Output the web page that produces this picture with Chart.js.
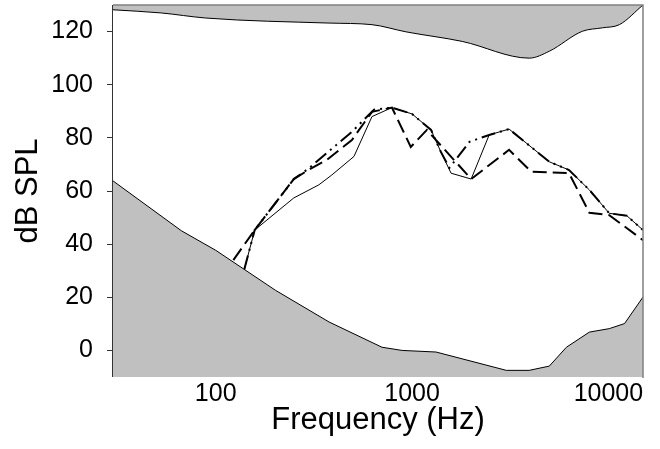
<!DOCTYPE html>
<html>
<head>
<meta charset="utf-8">
<script src="https://cdn.jsdelivr.net/npm/chart.js@4/dist/chart.umd.min.js"></script>
<style>
  body { margin: 0; background: #fff; }
  #grafico { display: block; }
</style>
</head>
<body>
<canvas id="grafico" width="660" height="449"></canvas>
<script>
// umbral de dolor (zona gris superior)
const dolorHz = [30, 53, 89, 378, 625, 931, 1800, 3950, 5000, 7360, 9300, 11370, 15000];
const dolorDb = [128.2, 127, 125.1, 123.2, 122.6, 119.9, 116.3, 110, 112.6, 120.1, 121.4, 122.6, 130];

// umbral de audicion (zona gris inferior)
const audicionHz = [30, 67, 100, 202, 378, 703, 890, 1325, 3020, 3950, 5000, 6110, 8000, 10100, 12080, 15000];
const audicionDb = [63.8, 45, 37.7, 22.6, 10.7, 1.2, 0, -0.6, -7.5, -7.5, -5.9, 1.2, 6.9, 8.2, 10.1, 20.1];

// linea continua
const continuaHz = [140, 158, 250, 335, 390, 506, 625, 790, 1000, 1250, 1400, 1580, 2000, 2470, 3120, 5000, 6300, 8000, 10100, 12400, 15000];
const continuaDb = [30.6, 45.3, 57.4, 62.3, 66, 73, 88, 91.4, 89, 83, 74.8, 66.7, 64.5, 81.1, 83.3, 71, 67.9, 60.4, 51.6, 50.7, 45.3];

// linea de trazos
const trazosHz = [123, 158, 210, 250, 298, 368, 494, 625, 790, 985, 1190, 2000, 3120, 4040, 6300, 8000, 10100, 15000];
const trazosDb = [34, 45.3, 57.2, 64.5, 68, 71.7, 79.2, 89.8, 91.4, 76.6, 83, 64.5, 75.5, 67.3, 66.7, 51.8, 50.9, 41.5];

// linea de trazo-punto-punto
const puntosHz = [140, 158, 250, 298, 368, 494, 640, 790, 1000, 1250, 1400, 1550, 1960, 2470, 3120, 5000, 6300, 8000, 10100, 12400, 15000];
const puntosDb = [30.6, 45.3, 64.5, 68.5, 74.3, 82.3, 90.6, 91.4, 89, 83, 74.8, 68.7, 78.5, 81.1, 83.3, 71, 67.9, 60.4, 51.6, 50.7, 45.3];

const ticksX = [100, 1000, 10000];
const ticksY = [0, 20, 40, 60, 80, 100, 120];

const puntos = (xs, ys) => xs.map((x, i) => ({ x: x, y: ys[i] }));

const fuente = "'Liberation Sans', Arial, sans-serif";

const marco = {
    id: "marco",
    afterDatasetsDraw(chart) {
        const { ctx, chartArea: a } = chart;
        ctx.save();
        ctx.lineWidth = 1.5;
        ctx.strokeStyle = "#808080";
        ctx.beginPath();
        ctx.moveTo(a.left, a.top);
        ctx.lineTo(a.right, a.top);
        ctx.lineTo(a.right, a.bottom + 1);
        ctx.stroke();
        ctx.strokeStyle = "#333";
        ctx.lineWidth = 1;
        ctx.beginPath();
        ctx.moveTo(a.left - 0.5, a.top);
        ctx.lineTo(a.left - 0.5, a.bottom);
        ctx.stroke();
        ctx.restore();
    }
};

new Chart(document.getElementById("grafico"), {
    type: "line",
    data: {
        datasets: [
            {
                data: puntos(dolorHz, dolorDb),
                fill: "end",
                backgroundColor: "#c0c0c0",
                borderColor: "#000",
                borderWidth: 1,
                pointRadius: 0,
                cubicInterpolationMode: "monotone"
            },
            {
                data: puntos(audicionHz, audicionDb),
                fill: "start",
                backgroundColor: "#c0c0c0",
                borderColor: "#000",
                borderWidth: 1,
                pointRadius: 0,
                tension: 0
            },
            {
                data: puntos(continuaHz, continuaDb),
                fill: false,
                borderColor: "#000",
                borderWidth: 1,
                pointRadius: 0,
                tension: 0
            },
            {
                data: puntos(trazosHz, trazosDb),
                fill: false,
                borderColor: "#000",
                borderWidth: 2,
                borderDash: [14, 6],
                pointRadius: 0,
                tension: 0
            },
            {
                data: puntos(puntosHz, puntosDb),
                fill: false,
                borderColor: "#000",
                borderWidth: 2,
                borderDash: [14, 5, 2, 5, 2, 5],
                pointRadius: 0,
                tension: 0
            }
        ]
    },
    options: {
        responsive: false,
        animation: false,
        devicePixelRatio: 1,
        layout: { padding: { top: 5, right: 17, left: 0, bottom: 0 } },
        plugins: { legend: { display: false }, tooltip: { enabled: false } },
        scales: {
            x: {
                type: "logarithmic",
                min: 30,
                max: 15000,
                afterBuildTicks: (s) => { s.ticks = ticksX.map(v => ({ value: v })); },
                afterFit: (s) => { s.height = 72; s.paddingLeft = 0; s.paddingRight = 0; },
                grid: { display: false, drawTicks: false },
                border: { display: false },
                ticks: {
                    autoSkip: false,
                    maxRotation: 0,
                    padding: 2,
                    color: "#000",
                    font: { family: fuente, size: 25 },
                    callback: (v) => String(v)
                },
                title: {
                    display: true,
                    text: "Frequency (Hz)",
                    color: "#000",
                    font: { family: fuente, size: 31 },
                    padding: { top: 0, bottom: 10 }
                }
            },
            y: {
                min: -10,
                max: 130,
                afterBuildTicks: (s) => { s.ticks = ticksY.map(v => ({ value: v })); },
                afterFit: (s) => { s.width = 113; s.paddingTop = 0; s.paddingBottom = 0; },
                grid: { drawOnChartArea: false, drawTicks: true, tickLength: 6, color: "#333" },
                border: { display: false },
                ticks: {
                    padding: 14,
                    color: "#000",
                    font: { family: fuente, size: 25 }
                },
                title: {
                    display: true,
                    text: "dB SPL",
                    color: "#000",
                    font: { family: fuente, size: 31 },
                    padding: { top: 10, bottom: 0 }
                }
            }
        }
    },
    plugins: [marco]
});
</script>
</body>
</html>
